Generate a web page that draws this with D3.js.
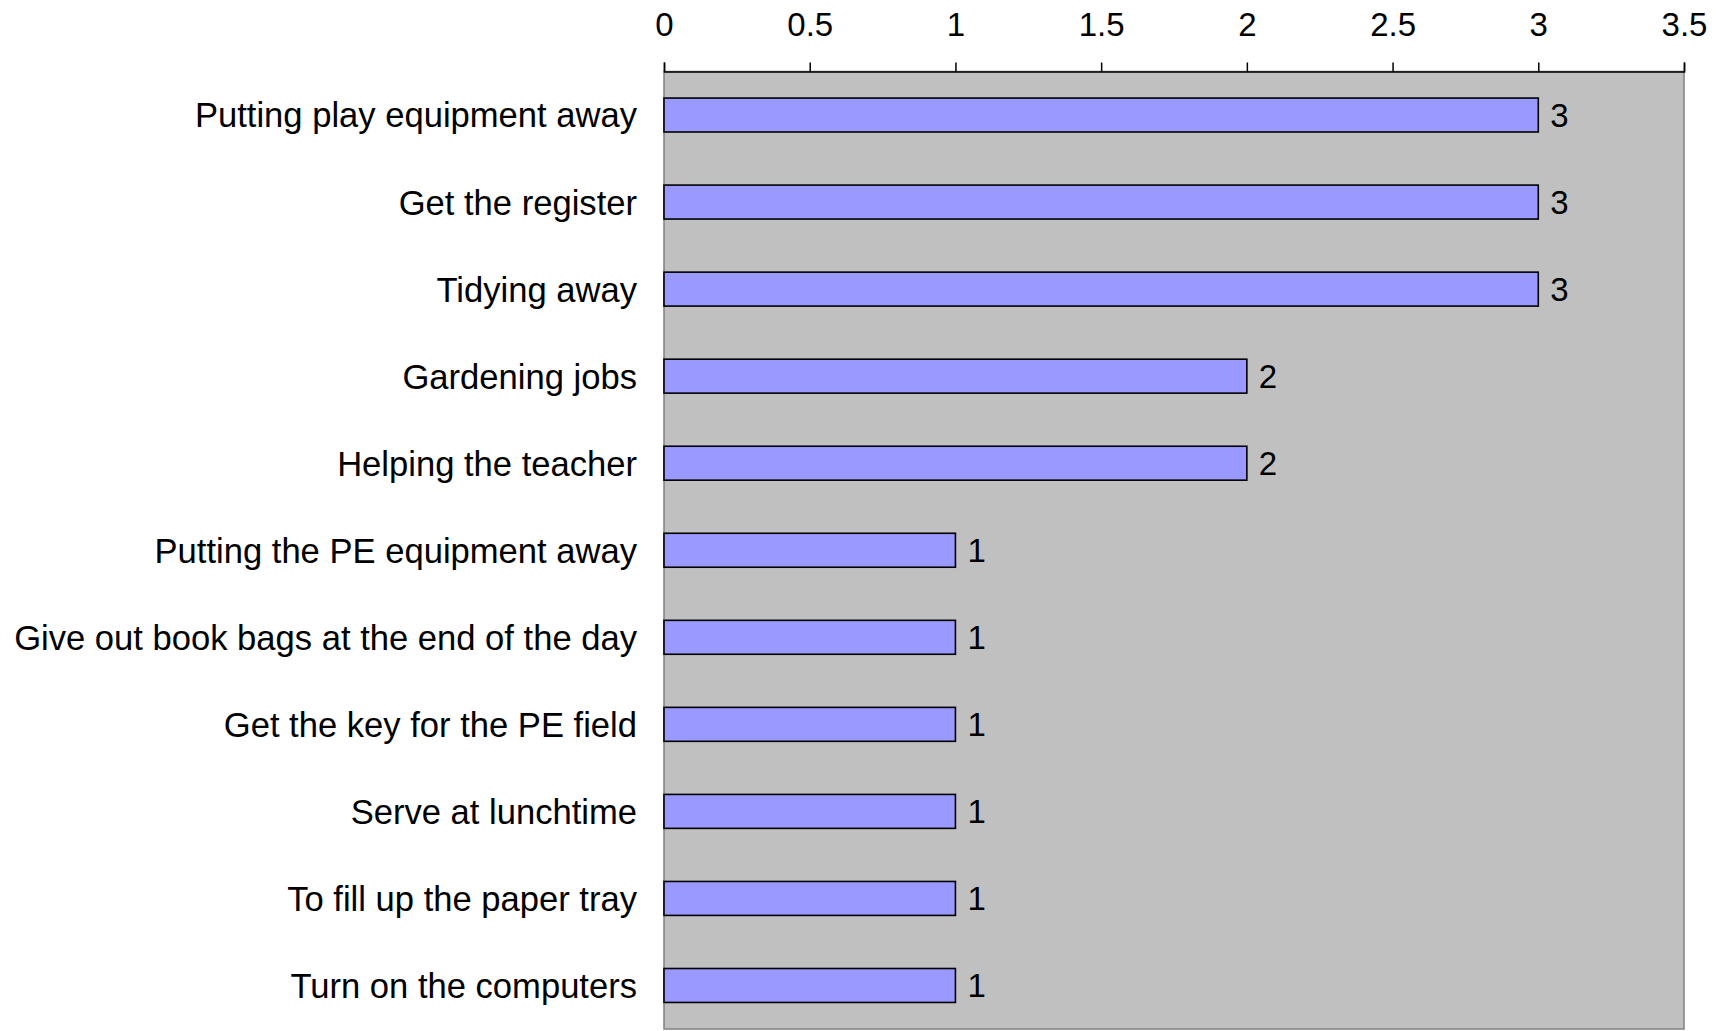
<!DOCTYPE html>
<html><head><meta charset="utf-8">
<script src="https://cdn.jsdelivr.net/npm/d3@7/dist/d3.min.js"></script>
<style>html,body{margin:0;padding:0;background:#fff;}svg{display:block;}</style>
</head><body>
<svg id="c" width="1722" height="1031"></svg>
<script>
const categories = [
  "Putting play equipment away",
  "Get the register",
  "Tidying away",
  "Gardening jobs",
  "Helping the teacher",
  "Putting the PE equipment away",
  "Give out book bags at the end of the day",
  "Get the key for the PE field",
  "Serve at lunchtime",
  "To fill up the paper tray",
  "Turn on the computers"
];
const values = [3, 3, 3, 2, 2, 1, 1, 1, 1, 1, 1];
const tickValues = [0, 0.5, 1, 1.5, 2, 2.5, 3, 3.5];

const svg = d3.select("#c");
const L = 664, R = 1684, T = 71.5, B = 1029;
const font = "'Liberation Sans', Arial, sans-serif";

const x = d3.scaleLinear().domain([0, 3.5]).range([L, R]);
const y = d3.scaleBand().domain(categories).range([T, B]).paddingInner(0.61).paddingOuter(0.305);

svg.append("rect").attr("x", L).attr("y", T).attr("width", R - L).attr("height", B - T)
  .attr("fill", "#C0C0C0").attr("stroke", "#808080").attr("stroke-width", 1.5);

svg.selectAll("rect.bar").data(values).enter().append("rect").attr("class", "bar")
  .attr("x", x(0)).attr("y", (d, i) => y(categories[i]))
  .attr("width", d => x(d) - x(0)).attr("height", y.bandwidth())
  .attr("fill", "#9999FF").attr("stroke", "#000").attr("stroke-width", 1.6);

svg.selectAll("text.val").data(values).enter().append("text").attr("class", "val")
  .attr("x", d => x(d) + 12).attr("y", (d, i) => y(categories[i]) + y.bandwidth() / 2)
  .attr("dy", "0.36em").attr("font-family", font).attr("font-size", 33).attr("fill", "#000")
  .text(d => d);

svg.selectAll("text.cat").data(categories).enter().append("text").attr("class", "cat")
  .attr("x", 637).attr("y", d => y(d) + y.bandwidth() / 2)
  .attr("dy", "0.36em").attr("text-anchor", "end").attr("font-family", font).attr("font-size", 34.6)
  .attr("fill", "#000").text(d => d);

const axis = d3.axisTop(x).tickValues(tickValues).tickSize(9).tickPadding(27).tickFormat(d3.format("~g"));
const g = svg.append("g").attr("transform", `translate(0,${T})`).call(axis);
g.select(".domain").attr("stroke", "#000").attr("stroke-width", 1.5);
g.selectAll(".tick line").attr("stroke", "#000").attr("stroke-width", 1.5);
g.selectAll(".tick text").attr("font-family", font).attr("font-size", 33).attr("fill", "#000");
</script>
</body></html>
